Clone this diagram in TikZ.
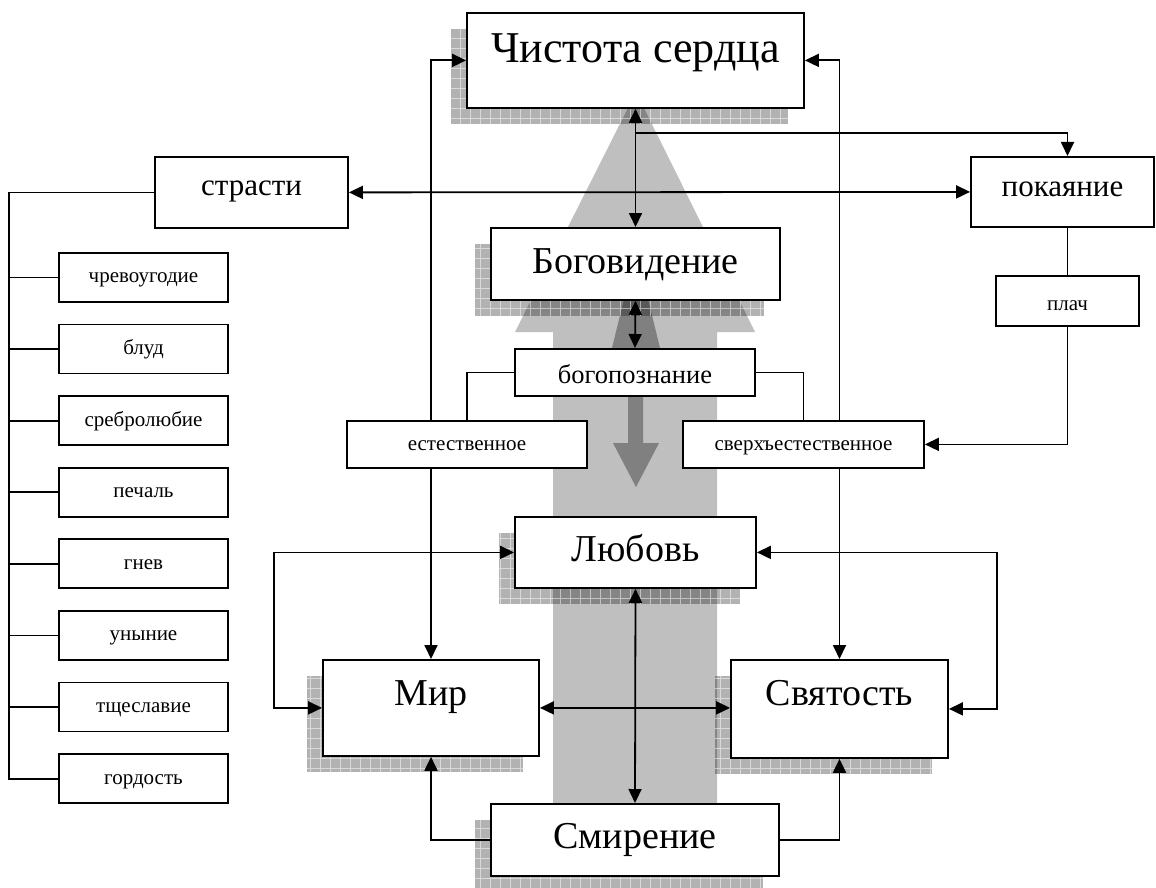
\documentclass[tikz,border=0pt]{standalone}
\usepackage{fontspec}
\setmainfont{Liberation Serif}
\usetikzlibrary{positioning,calc,shadows,patterns.meta,arrows.meta}

\tikzset{
  box/.style={draw, fill=white, line width=1.8pt, inner sep=0pt, align=center},
  shadowbox/.style={
    drop shadow={shadow xshift=-16pt, shadow yshift=-16pt, opacity=.3, fill=black},
    drop shadow={shadow xshift=-16pt, shadow yshift=-16pt, opacity=.5,
      pattern={Hatch[distance=10pt,angle=0,line width=.7pt]}, pattern color=white}},
  con/.style={line width=1.8pt},
  onearrow/.style={con, -{Triangle[length=14pt,width=13pt]}},
  twoarrow/.style={con, {Triangle[length=14pt,width=13pt]}-{Triangle[length=14pt,width=13pt]}},
  hugetext/.style={font=\fontsize{44}{48}\selectfont},
  bigtext/.style={font=\fontsize{38}{42}\selectfont},
  midtext/.style={font=\fontsize{31}{34}\selectfont},
  pztext/.style={font=\fontsize{26.5}{30}\selectfont},
  smalltext/.style={font=\fontsize{21}{24}\selectfont},
}

\begin{document}
\begin{tikzpicture}[x=1pt, y=-1pt]
  \useasboundingbox (0,0) rectangle (1156,888);

  \fill[gray!50] (553,803) -- (553,332) -- (515,332) -- (636,92) -- (755,332) -- (717,332) -- (717,803) -- cycle;
  \fill[gray] (636,250) -- (660,348) -- (643,348) -- (643,443) -- (659,443) -- (636,487)
      -- (613,443) -- (628,443) -- (628,348) -- (612,348) -- cycle;

  \node[box, shadowbox, hugetext, minimum width=337pt, text height=50pt, text depth=45pt, anchor=north] (chist) at (635.5,12) {Чистота сердца};
  \node[box, shadowbox, bigtext, minimum width=289pt, text height=46pt, text depth=26pt, anchor=north] (bogov) at (635.5,227) {Боговидение};
  \node[box, pztext, minimum width=240pt, text height=35pt, text depth=12pt, anchor=north] (bogopoz) at (635,348) {богопознание};
  \node[box, shadowbox, bigtext, minimum width=241pt, text height=45pt, text depth=26pt, anchor=north] (lub) at (635.5,516) {Любовь};
  \node[box, shadowbox, bigtext, minimum width=216pt, text height=46pt, text depth=50pt, anchor=north] (mir) at (431,659) {Мир};
  \node[box, shadowbox, bigtext, minimum width=217pt, text height=46pt, text depth=52pt, anchor=north] (svyat) at (839.5,659) {Святость};
  \node[box, shadowbox, bigtext, minimum width=288pt, text height=45pt, text depth=27pt, anchor=north] (smir) at (635,803) {Смирение};

  \node[box, midtext, minimum width=193pt, text height=39pt, text depth=32pt, anchor=north] (strasti) at (251.5,156) {страсти};
  \node[box, midtext, minimum width=183pt, text height=40pt, text depth=30pt, anchor=north] (pokay) at (1062.5,156) {покаяние};
  \node[box, smalltext, minimum width=143pt, text height=35pt, text depth=15pt, anchor=north] (plach) at (1067.5,275) {плач};

  \foreach \t [count=\i] in {чревоугодие, блуд, сребролюбие, печаль, гнев, уныние, тщеславие, гордость}
    \node[box, smalltext, minimum width=169pt, text height=30pt, text depth=19pt, anchor=north] (p\i) at (143.5,{252+71.6*(\i-1)}) {\t};

  \draw[twoarrow] (chist.west) -| (mir.north);
  \draw[twoarrow] (chist.east) -| (svyat.north);
  \draw[twoarrow] (strasti.east) -- (pokay.west);

  \node[box, smalltext, minimum width=240pt, text height=30pt, text depth=17pt, anchor=north] (estest) at (467,420) {естественное};
  \node[box, smalltext, minimum width=241pt, text height=30pt, text depth=17pt, anchor=north] (sverh) at (803.5,420) {сверхъестественное};

  \draw[twoarrow] (chist.south) -- (bogov.north);
  \draw[twoarrow] (bogov.south) -- (bogopoz.north);
  \draw[twoarrow] (lub.south) -- (smir.north);
  \draw[twoarrow] (mir.east) -- (mir.east -| svyat.west);
  \draw[twoarrow] (lub.west) -- ++(-240,0) |- (mir.west);
  \draw[twoarrow] (lub.east) -- ++(240,0) |- (svyat.east);
  \draw[onearrow] (smir.west) -| (mir.south);
  \draw[onearrow] (smir.east) -| (svyat.south);

  \draw[onearrow] ($(chist.south)+(0,24)$) -| (pokay.north -| plach.north);
  \draw[con] (pokay.south -| plach.north) -- (plach.north);
  \draw[onearrow] (plach.south) |- (sverh.east);
  \draw[con] (bogopoz.west) -| (estest.north);
  \draw[con] (bogopoz.east) -| (sverh.north);

  \draw[con] (strasti.west) -- ++(-145,0) coordinate (spine) |- (p8.west);
  \foreach \i in {1,...,7}
    \draw[con] (p\i.west) -- (p\i.west -| spine);
\end{tikzpicture}
\end{document}
